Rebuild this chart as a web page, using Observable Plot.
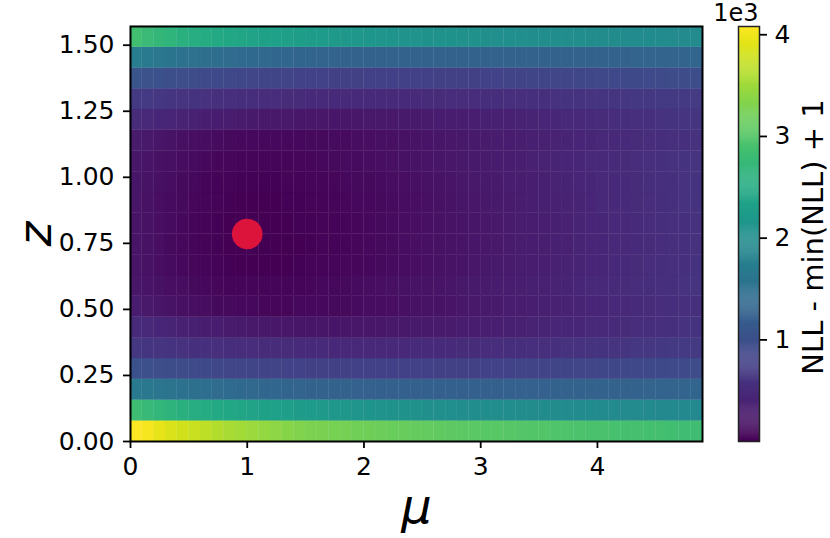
<!DOCTYPE html>
<html><head><meta charset="utf-8">
<script src="https://cdn.jsdelivr.net/npm/d3@7"></script>
<script src="https://cdn.jsdelivr.net/npm/@observablehq/plot@0.6"></script>
<style>
html,body{margin:0;padding:0;background:#fff;}
#chart{position:relative;width:830px;height:538px;}
#chart svg{position:absolute;left:0;top:0;}
</style></head><body><div id="chart"></div>
<script>
// Grid edges
const muEdges = [0,0.1,0.2,0.3,0.4,0.5,0.6,0.7,0.8,0.9,1.0,1.1,1.2,1.3,1.4,1.5,1.6,1.7,1.8,1.9,2.0,2.1,2.2,2.3,2.4,2.5,2.6,2.7,2.8,2.9,3.0,3.1,3.2,3.3,3.4,3.5,3.6,3.7,3.8,3.9,4.0,4.1,4.2,4.3,4.4,4.5,4.6,4.7,4.8,4.9];
const zEdges = [0,0.0785,0.1571,0.2356,0.3142,0.3927,0.4712,0.5498,0.6283,0.7069,0.7854,0.8639,0.9425,1.0210,1.0996,1.1781,1.2566,1.3352,1.4137,1.4923,1.5708];
// NLL - min(NLL) + 1, one row per z band (bottom to top), one value per mu band
const nll = [
[4080,4019,3937,3856,3794,3733,3672,3611,3550,3509,3468,3427,3386,3346,3313,3284,3264,3244,3223,3203,3182,3166,3150,3133,3117,3101,3084,3068,3052,3040,3027,3015,3003,2991,2978,2966,2954,2942,2929,2917,2905,2897,2885,2876,2864,2856,2848,2836,2827],
[2815,2754,2693,2644,2595,2550,2509,2468,2432,2399,2366,2334,2305,2277,2248,2224,2199,2175,2154,2134,2113,2097,2081,2064,2052,2040,2028,2016,2007,1999,1991,1983,1979,1975,1971,1967,1962,1958,1954,1950,1946,1942,1938,1934,1930,1926,1922,1918,1918],
[1673,1632,1591,1550,1518,1485,1457,1428,1404,1379,1359,1342,1326,1310,1297,1285,1277,1269,1261,1253,1248,1244,1240,1240,1236,1236,1236,1236,1240,1240,1244,1244,1248,1248,1253,1257,1261,1265,1269,1273,1277,1281,1285,1289,1293,1297,1302,1306,1310],
[1020,996,971,951,930,910,894,877,861,849,836,824,816,808,800,796,792,787,783,779,779,775,775,775,779,779,783,787,792,796,800,804,808,816,820,828,832,840,849,857,865,873,881,889,898,906,914,922,930],
[653,632,616,600,583,571,559,547,534,526,518,510,502,498,490,486,481,477,477,473,473,473,477,477,481,486,490,494,502,506,514,522,530,539,547,555,563,575,583,596,604,616,628,641,653,665,677,690,702],
[490,461,432,404,379,355,335,314,298,282,269,257,249,241,237,233,233,233,237,241,245,249,257,265,273,282,294,302,314,326,339,351,363,375,388,404,416,432,445,461,477,490,506,522,539,555,571,588,604],
[306,269,237,204,175,151,131,110,98,86,82,78,78,78,82,86,94,102,110,118,131,143,155,167,180,196,208,224,241,257,273,290,306,322,339,355,371,388,404,420,437,453,469,486,502,518,534,551,567],
[250,216,185,155,129,106,87,72,61,53,49,49,52,57,64,73,82,94,106,119,132,147,162,177,193,208,224,240,258,275,293,309,329,345,364,380,399,415,434,450,469,485,504,520,539,555,574,590,608],
[224,188,155,122,94,69,49,33,20,12,8,8,12,16,24,33,41,53,65,78,90,106,122,139,155,171,188,204,224,241,261,277,298,314,335,351,371,388,408,424,445,461,481,498,518,534,555,571,592],
[214,178,145,112,84,59,39,23,10,3,1,2,5,9,16,25,33,45,57,70,82,98,114,131,147,163,180,196,216,233,253,269,290,306,327,343,363,380,400,416,437,453,473,490,510,526,547,563,584],
[216,180,147,114,86,61,41,25,12,5,3,4,7,11,18,27,35,47,59,72,84,100,116,133,149,165,182,198,218,235,255,271,292,308,329,345,365,382,402,418,439,455,475,492,512,528,549,565,586],
[228,192,159,126,98,73,53,37,24,16,12,12,16,20,28,37,45,57,69,82,94,110,126,143,159,175,192,208,228,245,265,281,302,318,339,355,375,392,412,428,449,465,485,502,522,538,559,575,596],
[232,197,165,133,106,82,63,48,36,29,26,27,31,36,44,53,62,74,86,99,112,127,143,159,175,191,207,223,242,259,278,294,314,330,350,366,386,402,421,437,457,473,492,508,527,543,563,579,598],
[255,222,191,162,136,113,94,79,68,60,56,56,59,64,71,80,90,101,113,126,139,154,169,184,200,215,231,247,265,282,300,316,335,351,370,386,405,421,440,456,475,491,510,526,545,561,580,596,614],
[296,261,230,199,172,149,130,113,102,92,88,86,87,89,93,99,107,116,126,137,149,161,173,186,200,214,228,243,259,275,291,307,323,339,355,371,387,403,419,435,451,467,483,499,515,531,547,563,579],
[505,474,445,417,392,368,347,327,310,295,282,271,263,256,251,248,247,247,249,252,256,261,268,276,285,295,306,317,329,342,355,368,382,396,410,425,440,455,470,486,502,518,534,550,566,582,598,614,630],
[694,672,651,632,614,597,581,567,554,542,531,521,513,506,500,495,491,488,486,485,485,486,488,491,495,500,506,513,520,525,530,538,546,555,564,573,583,593,603,613,624,635,646,657,668,679,690,701,712],
[1060,1033,1008,984,962,941,921,903,886,871,857,844,832,822,813,805,798,792,787,783,780,778,777,777,778,780,783,787,792,797,803,809,816,823,830,838,846,854,862,870,878,886,894,902,910,918,926,934,942],
[1714,1665,1620,1578,1540,1505,1474,1446,1421,1399,1380,1363,1348,1335,1323,1313,1304,1296,1289,1283,1278,1274,1271,1268,1266,1264,1263,1262,1262,1262,1263,1264,1265,1267,1269,1271,1273,1276,1279,1282,1285,1288,1291,1294,1297,1300,1303,1306,1309],
[2840,2770,2705,2648,2597,2550,2507,2467,2430,2396,2365,2336,2309,2284,2260,2238,2217,2197,2178,2161,2145,2130,2116,2103,2091,2080,2069,2059,2050,2041,2033,2025,2018,2011,2004,1998,1992,1986,1981,1976,1971,1966,1961,1957,1953,1949,1945,1941,1938]
];
const bestFit = [{mu: 1.0, z: 0.7854}];
const xTicks = [0, 1, 2, 3, 4];
const yTicks = [0, 0.25, 0.5, 0.75, 1.0, 1.25, 1.5];
const cbarTicks = [1000, 2000, 3000, 4000];
const cbarTickLabels = ["1", "2", "3", "4"];
const cbarOffsetText = "1e3";
const xLabel = "μ";
const yLabel = "z";
const cbarLabel = "NLL - min(NLL) + 1";
const vMin = 1, vMax = 4081;

const cells = [];
nll.forEach((row, j) => row.forEach((v, i) => cells.push({
  mu1: muEdges[i], mu2: muEdges[i + 1], z1: zEdges[j], z2: zEdges[j + 1], v
})));

const W = 830, H = 538;
const font = "DejaVu Sans";
const tickFont = 25;
const colorOpts = {type: "linear", scheme: "viridis", domain: [vMin, vMax]};
const baseStyle = {fontFamily: font, fontSize: tickFont + "px", background: "transparent", color: "black", overflow: "visible"};

const main = Plot.plot({
  width: W, height: H,
  marginLeft: 130, marginRight: 128, marginTop: 26, marginBottom: 97,
  style: baseStyle,
  x: {domain: [0, 4.9]},
  y: {domain: [0, 1.5708]},
  color: colorOpts,
  marks: [
    Plot.rect(cells, {x1: "mu1", x2: "mu2", y1: "z1", y2: "z2", fill: "v", stroke: "v", strokeWidth: 0.35}),
    Plot.frame({stroke: "black", strokeWidth: 2}),
    Plot.dot(bestFit, {x: "mu", y: "z", r: 15.3, fill: "#dc143c"}),
    Plot.axisX({ticks: xTicks, tickSize: 7, tickPadding: 9, tickFormat: d => String(d), strokeWidth: 1.8, fontSize: tickFont, label: null}),
    Plot.axisY({ticks: yTicks, tickSize: 7, tickPadding: 9, tickFormat: d => d.toFixed(2), strokeWidth: 1.8, fontSize: tickFont, label: null}),
    Plot.text([xLabel], {text: d => d, frameAnchor: "bottom", dy: 81, textAnchor: "middle", lineAnchor: "bottom", fontSize: 48, fontStyle: "italic", fontFamily: font}),
    Plot.text([yLabel], {text: d => d, frameAnchor: "left", dx: -80, textAnchor: "middle", rotate: -90, lineAnchor: "bottom", fontSize: 47, fontStyle: "italic", fontFamily: font})
  ]
});

const step = 10;
const ramp = d3.range(vMin, vMax, step).map(v => ({v, v2: Math.min(v + step + 3, vMax)}));
const cbar = Plot.plot({
  width: W, height: H,
  marginLeft: 738, marginRight: 71, marginTop: 26, marginBottom: 97,
  style: baseStyle,
  x: {domain: [0, 1], axis: null},
  y: {domain: [vMin, vMax], axis: null},
  color: colorOpts,
  marks: [
    Plot.rect(ramp, {x1: 0, x2: 1, y1: "v", y2: "v2", fill: "v"}),
    Plot.frame({stroke: "#222", strokeWidth: 1.5}),
    Plot.axisY({anchor: "right", ticks: cbarTicks, tickFormat: d => cbarTickLabels[cbarTicks.indexOf(d)], tickSize: 7, tickPadding: 8, strokeWidth: 1.8, fontSize: tickFont, label: null}),
    Plot.text([cbarOffsetText], {text: d => d, frameAnchor: "top-right", dx: -1, dy: -6, textAnchor: "end", lineAnchor: "bottom", fontSize: 24, fontFamily: font}),
    Plot.text([cbarLabel], {text: d => d, frameAnchor: "right", dx: 63, dy: 3, textAnchor: "middle", rotate: -90, lineAnchor: "bottom", fontSize: 29, fontFamily: font})
  ]
});

const holder = document.getElementById("chart");
holder.appendChild(main);
holder.appendChild(cbar);
</script>
</body></html>
